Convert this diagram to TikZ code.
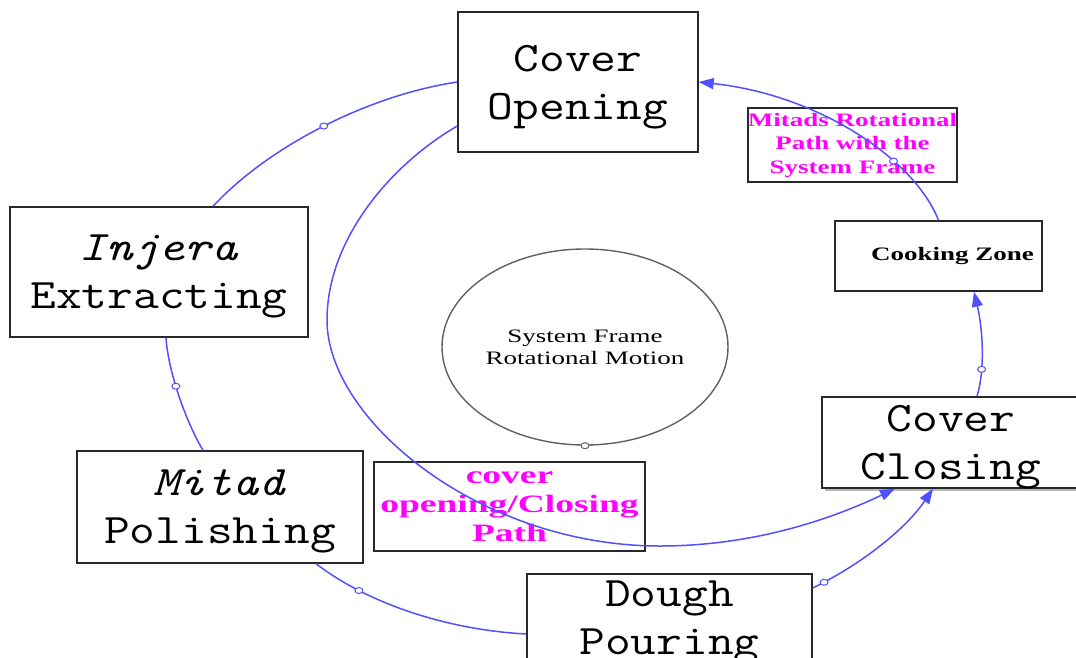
\documentclass[tikz,border=0pt]{standalone}
\usepackage{fontspec}
\usetikzlibrary{arrows.meta,calc,shapes.geometric}
\newfontfamily\monof[FakeStretch=1.19]{Latin Modern Mono}
\newfontfamily\serA[FakeStretch=1.42]{Liberation Serif}
\newfontfamily\serB[FakeStretch=1.5]{Liberation Serif}
\definecolor{flow}{RGB}{80,80,255}
\definecolor{mag}{RGB}{255,0,255}
\definecolor{frame}{RGB}{40,40,40}
\begin{document}
\begin{tikzpicture}[x=1pt,y=-1pt,
  box/.style={draw=frame, line width=1.4pt, rectangle, inner sep=0pt, align=center},
  mono/.style={font=\monof\fontsize{42}{48}\selectfont, text depth=0pt},
  flowline/.style={draw=flow, line width=1.5pt},
  arr/.style={flowline, -{Triangle[length=15pt,width=11pt]}},
  mk/.style={ellipse, draw=flow, fill=white, line width=1pt, inner sep=0pt, minimum width=8pt, minimum height=6pt}]
\useasboundingbox (0,0) rectangle (1076,657);
\clip (0,0) rectangle (1076,657);
% main boxes
\node[box, mono, minimum width=240, minimum height=140] (co) at (578,82) {Cover\\Opening};
\node[box, mono, minimum width=298, minimum height=130] (ie) at (159,272) {\textit{Injera}\\Extracting};
\node[box, mono, minimum width=286, minimum height=112] (mp) at (220,507) {\textit{Mitad}\\Polishing};
\node[box, mono, minimum width=285, minimum height=88] (dp) at (669.5,618) {Dough\\Pouring};
\fill[gray!55] (825,489) rectangle (1080,491);
\node[box, mono, minimum width=258, minimum height=91, fill=white] (cc) at (951,442.5) {Cover\\Closing};
\node[box, minimum width=207, minimum height=70, font=\serA\bfseries\fontsize{19}{22}\selectfont] (cz) at (938.5,256) {\hspace*{28pt}Cooking Zone};
% labels
\node[box, minimum width=205, minimum height=74, text=mag, font=\serA\bfseries\fontsize{19}{23.5}\selectfont] (lp) at (852.5,145) {Mitads Rotational\\Path with the\\System Frame};
\node[box, minimum width=271, minimum height=89, text=mag, font=\serB\bfseries\fontsize{25}{29}\selectfont] (lc) at (509.5,506.5) {cover\\opening/Closing\\Path};
% central frame
\node[ellipse, draw=gray!75!black, line width=1.4pt, minimum width=286, minimum height=196, inner sep=0pt, align=center, font=\serA\fontsize{19}{22}\selectfont] (sf) at (585,347) {System Frame\\Rotational Motion};
\node[ellipse, draw=gray!75!black, fill=white, line width=1pt, inner sep=0pt, minimum width=8pt, minimum height=6pt] (sm) at (sf.south) {};
% connectors
\draw[flowline] ($(ie.north)+(54,0)$) .. controls (270,145) and (370,95) .. (co.west) node[mk, pos=0.5] (m1) {};
\draw[arr] ($(co.west)+(0,44)$) .. controls (390,165) and (327,240) .. (327,320) .. controls (327,420) and (480,546) .. (660,546) .. controls (760,546) and (840,515) .. ($(cc.south)+(-56,0)$);
\draw[arr] ($(dp.east)+(0,-30)$) .. controls (860,565) and (905,530) .. ($(cc.south)+(-18,0)$) node[mk, pos=0.08] (m2) {};
\draw[arr] ($(cc.north)+(26,0)$) .. controls (985,370) and (983,330) .. ($(cz.south)+(35.5,0)$) node[mk, pos=0.3] (m3) {};
\draw[arr] (cz.north) .. controls (915,160) and (820,95) .. (co.east) node[mk, pos=0.33] (m4) {};
\draw[flowline] ($(ie.south)+(7,0)$) .. controls (168,370) and (185,420) .. ($(mp.north)+(-17,0)$) node[mk, pos=0.43] (m5) {};
\draw[flowline] ($(mp.south)+(96,0)$) .. controls (370,605) and (450,630) .. ($(dp.west)+(0,16)$) node[mk, pos=0.24] (m6) {};
\end{tikzpicture}
\end{document}
